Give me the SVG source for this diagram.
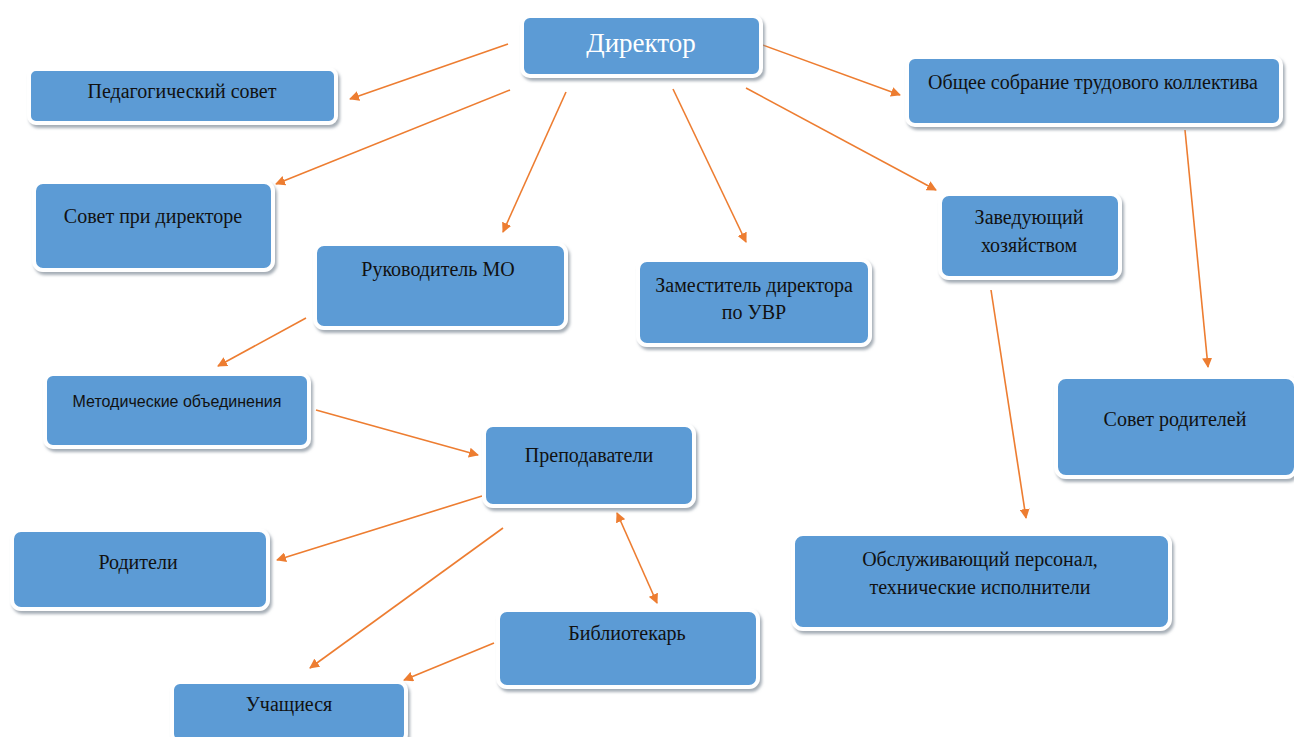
<svg xmlns="http://www.w3.org/2000/svg" width="1294" height="737" viewBox="0 0 1294 737">
<defs>
<filter id="sh" x="-10%" y="-10%" width="125%" height="135%">
<feDropShadow dx="2" dy="3" stdDeviation="1.5" flood-color="#7f8a96" flood-opacity="0.7"/>
</filter>
<marker id="ah" viewBox="0 0 10 10" refX="9" refY="5" markerWidth="10" markerHeight="10" markerUnits="userSpaceOnUse" orient="auto-start-reverse">
<path d="M0,0 L10,5 L0,10 z" fill="#ED7D31"/>
</marker>
</defs>
<style>
.box{fill:#5B9BD5;stroke:#ffffff;stroke-width:4;filter:url(#sh)}
.t{font-family:"Liberation Serif","Times New Roman",serif;font-size:20px;fill:#111;text-anchor:middle}
.s{font-family:"Liberation Sans",Arial,sans-serif;font-size:16px;fill:#111;text-anchor:middle}
.w{font-family:"Liberation Serif","Times New Roman",serif;font-size:27px;fill:#ffffff;text-anchor:middle}
.c{stroke:#ED7D31;stroke-width:1.6;fill:none;marker-end:url(#ah)}
</style>
<rect width="1294" height="737" fill="#ffffff"/>
<g id="connectors">
<line class="c" x1="508" y1="44" x2="350" y2="99"/>
<line class="c" x1="510" y1="90" x2="276" y2="184"/>
<line class="c" x1="566" y1="92" x2="503" y2="232"/>
<line class="c" x1="673" y1="89" x2="746" y2="242"/>
<line class="c" x1="746" y1="88" x2="936" y2="190"/>
<line class="c" x1="760" y1="44" x2="900" y2="95"/>
<line class="c" x1="1185" y1="130" x2="1208" y2="367"/>
<line class="c" x1="991" y1="290" x2="1026" y2="518"/>
<line class="c" x1="306" y1="318" x2="218" y2="366"/>
<line class="c" x1="316" y1="410" x2="478" y2="455"/>
<line class="c" x1="482" y1="496" x2="277" y2="560"/>
<line class="c" x1="503" y1="528" x2="310" y2="668"/>
<line class="c" x1="617" y1="513" x2="657" y2="603" marker-start="url(#ah)"/>
<line class="c" x1="494" y1="643" x2="404" y2="680"/>
</g>
<g id="director"><rect class="box" x="522" y="16" width="239" height="60" rx="8"/><text class="w" x="641" y="52">Директор</text></g>
<g id="ped-sovet"><rect class="box" x="29" y="69" width="307" height="54" rx="7"/><text class="t" x="182" y="98">Педагогический совет</text></g>
<g id="sovet-dir"><rect class="box" x="34" y="182" width="239" height="88" rx="9"/><text class="t" x="153" y="223">Совет при директоре</text></g>
<g id="ruk-mo"><rect class="box" x="315" y="244" width="251" height="84" rx="9"/><text class="t" x="438" y="276">Руководитель МО</text></g>
<g id="zam-dir"><rect class="box" x="638" y="260" width="232" height="85" rx="9"/><text class="t" x="754" y="292">Заместитель директора</text><text class="t" x="754" y="319">по УВР</text></g>
<g id="zav-hoz"><rect class="box" x="940" y="194" width="180" height="84" rx="9"/><text class="t" x="1029" y="224">Заведующий</text><text class="t" x="1029" y="252">хозяйством</text></g>
<g id="obshee"><rect class="box" x="907" y="57" width="374" height="68" rx="8"/><text class="t" x="1093" y="89">Общее собрание трудового коллектива</text></g>
<g id="sovet-rod"><rect class="box" x="1056" y="377" width="240" height="100" rx="10"/><text class="t" x="1175" y="426">Совет родителей</text></g>
<g id="metod"><rect class="box" x="45" y="374" width="264" height="73" rx="8"/><text class="s" x="177" y="407">Методические объединения</text></g>
<g id="prepod"><rect class="box" x="484" y="425" width="210" height="81" rx="9"/><text class="t" x="589" y="462">Преподаватели</text></g>
<g id="roditeli"><rect class="box" x="12" y="530" width="256" height="79" rx="9"/><text class="t" x="138" y="569">Родители</text></g>
<g id="obsl"><rect class="box" x="793" y="534" width="377" height="95" rx="10"/><text class="t" x="980" y="566">Обслуживающий персонал,</text><text class="t" x="980" y="594">технические исполнители</text></g>
<g id="bibl"><rect class="box" x="498" y="610" width="260" height="77" rx="9"/><text class="t" x="627" y="640">Библиотекарь</text></g>
<g id="uchash"><rect class="box" x="172" y="682" width="234" height="60" rx="8"/><text class="t" x="289" y="711">Учащиеся</text></g>
</svg>
